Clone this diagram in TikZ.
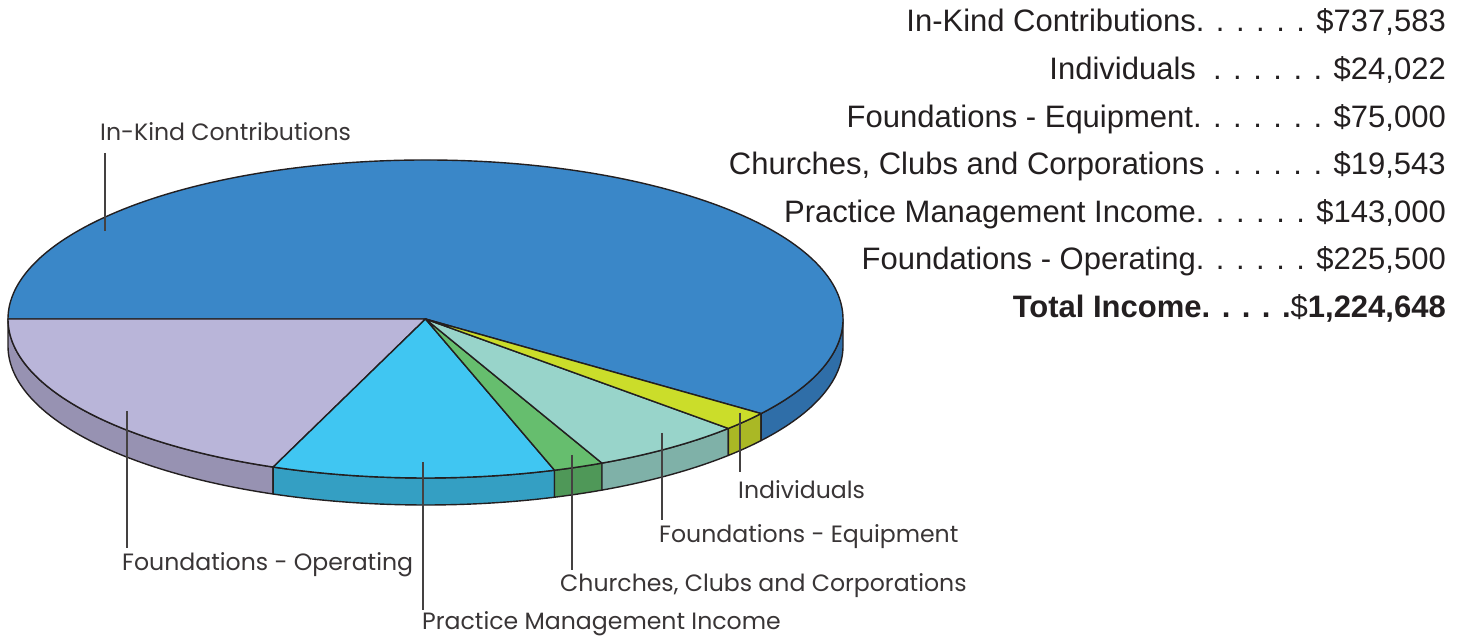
\documentclass[tikz,border=0pt]{standalone}
\usepackage{fontspec}
\setmainfont{Liberation Sans}
\newfontfamily\gothic{Poppins}
\usetikzlibrary{calc}
\definecolor{ol}{HTML}{231F20}
\definecolor{ikT}{HTML}{3A87C8}\definecolor{ikS}{HTML}{2F6EA8}
\definecolor{foT}{HTML}{B9B5D9}\definecolor{foS}{HTML}{9792B2}
\definecolor{pmT}{HTML}{40C6F2}\definecolor{pmS}{HTML}{349FC3}
\definecolor{chT}{HTML}{66BE6E}\definecolor{chS}{HTML}{4F9858}
\definecolor{feT}{HTML}{98D4CA}\definecolor{feS}{HTML}{7FB1A8}
\definecolor{inT}{HTML}{CBDD2A}\definecolor{inS}{HTML}{AAB825}
\newcommand\sidepc[3]{\filldraw[piece,fill=#3] ($(C)+(#1:417.5pt and 159pt)$) arc[start angle=#1,end angle=#2,x radius=417.5pt,y radius=159pt] -- ++(0,-27pt) arc[start angle=#2,end angle=#1,x radius=417.5pt,y radius=159pt] -- cycle;}
\newcommand\toppc[3]{\filldraw[piece,fill=#3] (C) -- ($(C)+(#1:417.5pt and 159pt)$) arc[start angle=#1,end angle=#2,x radius=417.5pt,y radius=159pt] -- cycle;}
\begin{document}
\begin{tikzpicture}[x=1pt,y=1pt,
  piece/.style={draw=ol,line width=1.4pt,line join=round},
  leader/.style={draw=ol!85,line width=1.1pt},
  lbl/.style={anchor=west,inner sep=0pt,font=\gothic\fontsize{23.6}{26}\selectfont,text=ol!90},
  amt/.style={anchor=base east,inner sep=0pt,font=\fontsize{31}{35}\selectfont,text=ol}]
\useasboundingbox (0,0) rectangle (1466,639);
\coordinate (C) at (425.5,320);
% sides
\sidepc{180}{248.6}{foS}
\sidepc{248.6}{288}{pmS}
\sidepc{288}{295}{chS}
\sidepc{295}{316.5}{feS}
\sidepc{316.5}{323.5}{inS}
\sidepc{323.5}{360}{ikS}
% top
\toppc{-36.5}{180}{ikT}
\toppc{180}{248.6}{foT}
\toppc{248.6}{288}{pmT}
\toppc{288}{295}{chT}
\toppc{295}{316.5}{feT}
\toppc{316.5}{323.5}{inT}
% labels
\node[lbl] (lIK) at (100,507) {In-Kind Contributions};
\node[lbl] (lFO) at (122,74) {Foundations - Operating};
\node[lbl] (lPM) at (422,15) {Practice Management Income};
\node[lbl] (lCH) at (560,53) {Churches, Clubs and Corporations};
\node[lbl] (lFE) at (659,102) {Foundations - Equipment};
\node[lbl] (lIN) at (738,149) {Individuals};
\coordinate (aIK) at (105,486); \coordinate (bIK) at (105,408);
\coordinate (aFO) at (127,228); \coordinate (bFO) at (127,91);
\coordinate (aPM) at (423,177); \coordinate (bPM) at (423,29);
\coordinate (aCH) at (572,184); \coordinate (bCH) at (572,69);
\coordinate (aFE) at (662,206); \coordinate (bFE) at (662,119);
\coordinate (aIN) at (740,226); \coordinate (bIN) at (740,167);
\draw[leader] (aIK) -- (bIK);
\draw[leader] (aFO) -- (bFO);
\draw[leader] (aPM) -- (bPM);
\draw[leader] (aCH) -- (bCH);
\draw[leader] (aFE) -- (bFE);
\draw[leader] (aIN) -- (bIN);
% amounts
\node[amt] (r1) at (1446,607) {In-Kind Contributions. . . . . . \$737,583};
\node[amt] (r2) at (1446,559.5) {Individuals\ \ . . . . . . \$24,022};
\node[amt] (r3) at (1446,511.5) {Foundations - Equipment. . . . . . . \$75,000};
\node[amt] (r4) at (1446,464) {Churches, Clubs and Corporations . . . . . . \$19,543};
\node[amt] (r5) at (1446,416.5) {Practice Management Income. . . . . . \$143,000};
\node[amt] (r6) at (1446,369) {Foundations - Operating. . . . . . \$225,500};
\node[amt] (r7) at (1446,321) {\textbf{Total Income. . . . .}\$\textbf{1,224,648}};
\end{tikzpicture}
\end{document}
